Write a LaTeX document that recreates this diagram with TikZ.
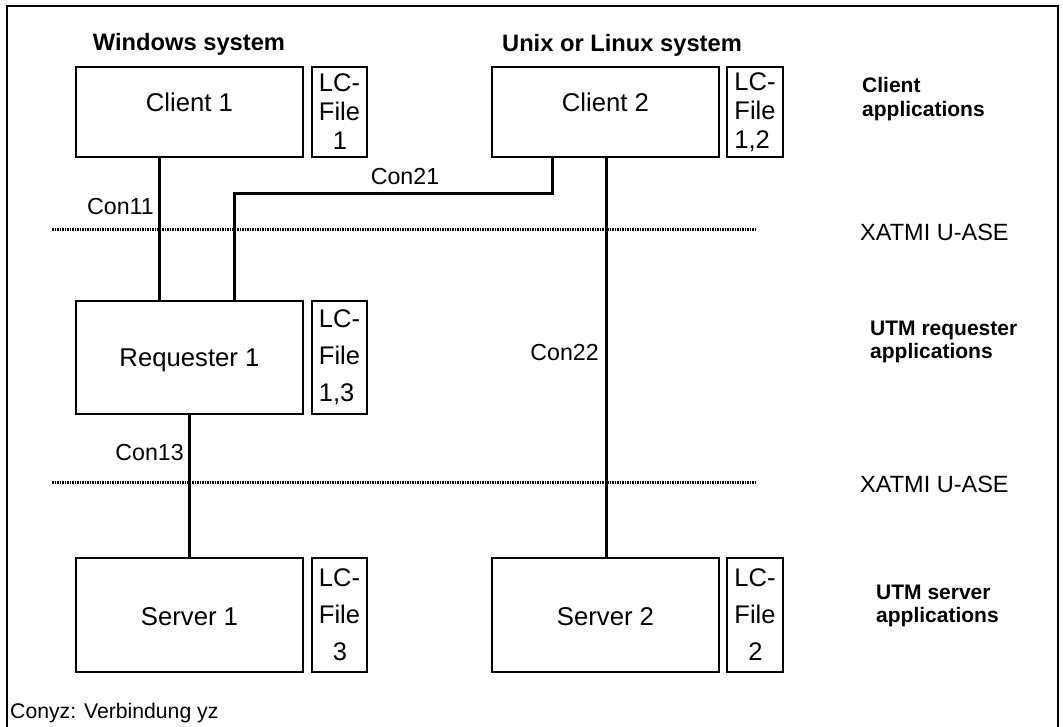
\documentclass[tikz,border=0pt]{standalone}
\usepackage{fontspec}
\setmainfont{Liberation Sans}
\begin{document}
\begin{tikzpicture}[x=1pt,y=-1pt,
  appbox/.style={draw,line width=2.6pt,minimum width=227pt,inner sep=0pt},
  lcbox/.style={draw,line width=2.6pt,minimum width=55pt,inner sep=3.5pt,align=left,font=\fontsize{25.5}{29}\selectfont},
  lcboxtall/.style={lcbox,font=\fontsize{25.5}{37}\selectfont},
  boxtext/.style={inner sep=0pt,font=\fontsize{25.7}{29}\selectfont},
  conn/.style={line width=3pt},
  sep/.style={line width=3pt,dash pattern=on 1.5pt off 1pt},
  conlabel/.style={inner sep=0pt,font=\fontsize{23.2}{27}\selectfont},
  head/.style={inner sep=0pt,font=\bfseries\fontsize{23.7}{27}\selectfont},
  side/.style={inner sep=0pt,anchor=west,align=left,font=\bfseries\fontsize{21}{23.5}\selectfont},
  xatmi/.style={inner sep=0pt,anchor=west,font=\fontsize{23.5}{27}\selectfont},
  foot/.style={inner sep=0pt,anchor=west,font=\fontsize{21.2}{25}\selectfont}]
\useasboundingbox (0,0) rectangle (1063,727);
\fill[white] (0,0) rectangle (1063,727);
% frame
\draw[line width=1.5pt] (7,740) -- (7,6) -- (1058,6) -- (1058,740);
% headers
\node[head] (hwin) at (189,44) {Windows system};
\node[head] (hunix) at (622,45) {Unix or Linux system};
% boxes
\node[appbox,minimum height=90pt] (c1) at (189.5,112) {};
\node[boxtext] (c1t) at ([yshift=10pt]c1.center) {Client 1};
\node[lcbox,minimum height=90pt] (lc1) at (339.5,112) {LC-\\File\\\hspace*{0.55em}1};
\node[appbox,minimum height=90pt] (c2) at (605.5,112) {};
\node[boxtext] (c2t) at ([yshift=10pt]c2.center) {Client 2};
\node[lcbox,minimum height=90pt,minimum width=56pt] (lc2) at (755,112) {LC-\\File\\1,2};
\node[appbox,minimum height=113pt] (req) at (189.5,357.5) {};
\node[boxtext] (reqt) at ([yshift=-2.5pt]req.center) {Requester 1};
\node[lcboxtall,minimum height=113pt] (lc3) at (339.5,357.5) {LC-\\File\\1,3};
\node[appbox,minimum height=114pt] (s1) at (189.5,615) {};
\node[boxtext] (s1t) at ([yshift=-2pt]s1.center) {Server 1};
\node[lcboxtall,minimum height=114pt] (lc4) at (339.5,615) {LC-\\File\\\hspace*{0.55em}3};
\node[appbox,minimum height=114pt] (s2) at (605.5,615) {};
\node[boxtext] (s2t) at ([yshift=-2pt]s2.center) {Server 2};
\node[lcboxtall,minimum height=114pt,minimum width=56pt] (lc5) at (755,615) {LC-\\File\\\hspace*{0.55em}2};
% separators
\coordinate (sepa1) at (52,229.5);
\coordinate (sepa2) at (757,229.5);
\coordinate (sepb1) at (52,482);
\coordinate (sepb2) at (757,482);
\draw[sep] (sepa1) -- (sepa2);
\draw[sep] (sepb1) -- (sepb2);
% connectors
\coordinate (k11) at (159,0);
\coordinate (k21a) at (552,0);
\coordinate (k21b) at (234,194);
\coordinate (k22) at (606,0);
\coordinate (k13) at (189,0);
\draw[conn] (c1.south -| k11) -- (req.north -| k11);
\draw[conn] (c2.south -| k21a) |- (k21b) -- (req.north -| k21b);
\draw[conn] (c2.south -| k22) -- (s2.north -| k22);
\draw[conn] (req.south -| k13) -- (s1.north -| k13);
% connector labels
\node[conlabel,anchor=east] (l11) at (154,207) {Con11};
\node[conlabel] (l21) at (405,177) {Con21};
\node[conlabel,anchor=east] (l22) at (599,353) {Con22};
\node[conlabel,anchor=east] (l13) at (184,453) {Con13};
% side labels
\node[side] (sc) at (862,99) {Client\\applications};
\node[side] (sr) at (870,342) {UTM requester\\applications};
\node[side] (ss) at (876,606) {UTM server\\applications};
\node[xatmi] (x1) at (860,232) {XATMI U-ASE};
\node[xatmi] (x2) at (860,484) {XATMI U-ASE};
\node[foot] (ft) at (10,713) {Conyz: Verbindung yz};
\end{tikzpicture}
\end{document}
